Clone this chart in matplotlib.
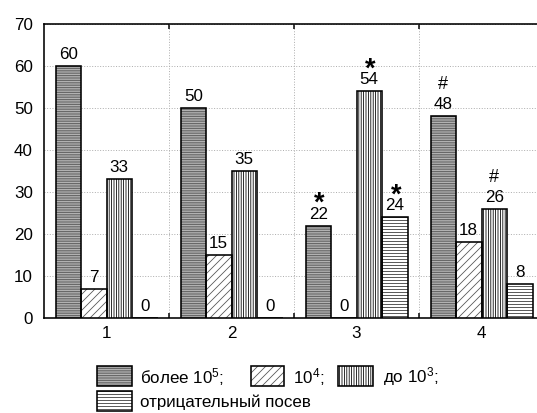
import matplotlib
matplotlib.use("Agg")
import matplotlib.pyplot as plt
import numpy as np
from matplotlib.patches import Rectangle

# ---------------------------------------------------------------------------
# Data
# ---------------------------------------------------------------------------

groups = ["1", "2", "3", "4"]
more_1e5 = [60, 50, 22, 48]
e4 = [7, 15, 0, 18]
upto_1e3 = [33, 35, 54, 26]
negative = [0, 0, 24, 8]

series = [more_1e5, e4, upto_1e3, negative]
marks = [
    ["", "", "*", "#"],
    ["", "", "", ""],
    ["", "", "*", "#"],
    ["", "", "*", ""],
]
legend_labels = ["более 10$^5$;", "10$^4$;", "до 10$^3$;", "отрицательный посев"]
yticks = [0, 10, 20, 30, 40, 50, 60, 70]

# ---------------------------------------------------------------------------
# Style
# ---------------------------------------------------------------------------

plt.rcParams["font.family"] = ["Liberation Sans", "DejaVu Sans"]
plt.rcParams["mathtext.default"] = "regular"
plt.rcParams["hatch.linewidth"] = 0.8

W, H = 537, 413
FS = 17
styles = [
    dict(face="#5c5c5c", hatch="-------", hcol="#c8c8c8"),
    dict(face="white", hatch="///", hcol="#555555"),
    dict(face="white", hatch="|||||", hcol="black"),
    dict(face="white", hatch="----", hcol="#333333"),
]

fig = plt.figure(figsize=(W / 72, H / 72), dpi=72)
ax = fig.add_axes([44 / W, (H - 318) / H, 500 / W, (318 - 24) / H])

x = np.arange(len(groups))
bw = 0.204

for i, (vals, st) in enumerate(zip(series, styles)):
    pos = x + (i - 1.5) * bw
    ax.bar(pos, vals, bw, color=st["face"], hatch=st["hatch"],
           edgecolor=st["hcol"], linewidth=0, zorder=3)
    ax.bar(pos, vals, bw, fill=False, edgecolor="black", linewidth=1.6, zorder=4)
    for p, v, m in zip(pos, vals, marks[i]):
        ax.annotate(str(v), (p, v), xytext=(0, 7), textcoords="offset points",
                    ha="center", va="baseline", fontsize=FS, zorder=5)
        if m == "*":
            ax.annotate("*", (p, v), xytext=(1, 15), textcoords="offset points",
                        ha="center", va="baseline", fontsize=27,
                        fontweight="bold", zorder=5)
        elif m == "#":
            ax.annotate("#", (p, v), xytext=(0, 27), textcoords="offset points",
                        ha="center", va="baseline", fontsize=18, zorder=5)

ax.set_xlim(-0.5, 3.5)
ax.set_ylim(0, 70)
ax.set_yticks(yticks)
ax.set_xticks(x)
ax.set_xticklabels(groups)
ax.set_xticks(x[:-1] + 0.5, minor=True)
ax.tick_params(axis="both", which="major", length=0, labelsize=FS)
ax.tick_params(axis="x", which="major", pad=8)
ax.tick_params(axis="y", which="major", pad=11)
ax.tick_params(axis="x", which="minor", direction="in", length=5, width=1.5,
               top=True, bottom=True)
ax.grid(True, axis="y", which="major", linestyle=":", color="#b0b0b0", linewidth=1)
ax.grid(True, axis="x", which="minor", linestyle=":", color="#b0b0b0", linewidth=1)
ax.set_axisbelow(True)
for s in ax.spines.values():
    s.set_linewidth(1.6)

# ---------------------------------------------------------------------------
# Legend (drawn by hand: 3 items on the first row, 1 on the second)
# ---------------------------------------------------------------------------

legend_pos = [(97, 366), (251, 366), (338, 366), (97, 391)]
text_pos = [(140, 377), (293, 377), (383, 377), (140, 402)]
for (px, py), (tx, ty), st, lab in zip(legend_pos, text_pos, styles, legend_labels):
    pw = 35 if px != 251 else 33
    rect = [px / W, 1 - (py + 20) / H, pw / W, 20 / H]
    fig.add_artist(Rectangle(rect[:2], rect[2], rect[3], transform=fig.transFigure,
                             facecolor=st["face"], hatch=st["hatch"],
                             edgecolor=st["hcol"], linewidth=0))
    fig.add_artist(Rectangle(rect[:2], rect[2], rect[3], transform=fig.transFigure,
                             fill=False, edgecolor="black", linewidth=1.6))
    fig.text(tx / W, 1 - ty / H, lab, ha="left", va="center", fontsize=FS)

fig.savefig("out.png", dpi=72)
